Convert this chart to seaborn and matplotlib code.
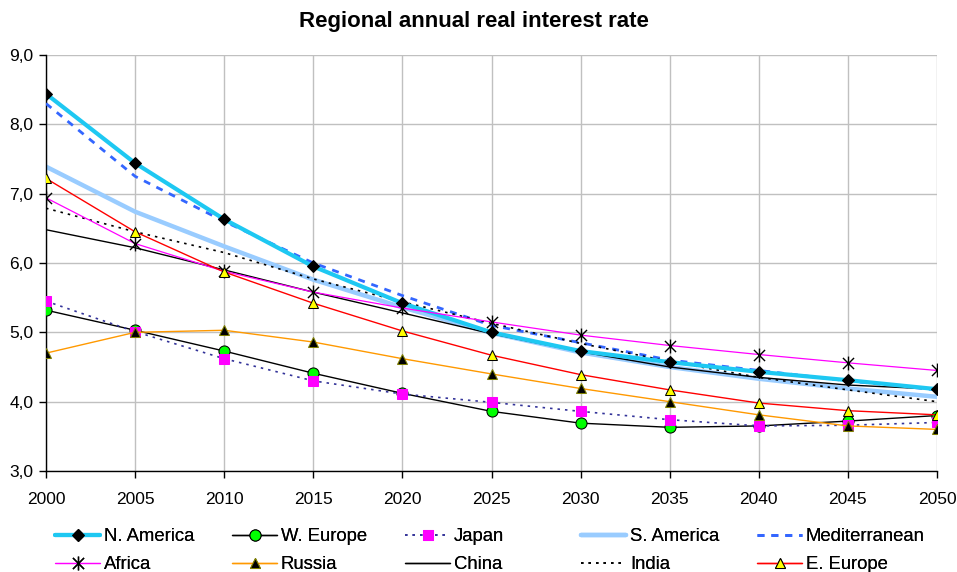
import numpy as np
import pandas as pd
import seaborn as sns
import matplotlib.pyplot as plt
from matplotlib.path import Path
from matplotlib.ticker import FuncFormatter, MultipleLocator

# Données
annees = [2000, 2005, 2010, 2015, 2020, 2025, 2030, 2035, 2040, 2045, 2050]
n_america = [8.44, 7.44, 6.63, 5.95, 5.42, 5.00, 4.73, 4.57, 4.43, 4.31, 4.18]
w_europe = [5.32, 5.03, 4.73, 4.41, 4.12, 3.86, 3.69, 3.63, 3.65, 3.72, 3.80]
japan = [5.45, 5.01, 4.62, 4.30, 4.11, 3.99, 3.86, 3.74, 3.65, 3.66, 3.70]
s_america = [7.39, 6.74, 6.24, 5.76, 5.36, 4.99, 4.71, 4.50, 4.33, 4.19, 4.07]
mediterranean = [8.30, 7.25, 6.60, 6.00, 5.53, 5.10, 4.85, 4.60, 4.45, 4.30, 4.17]
africa = [6.94, 6.28, 5.88, 5.58, 5.35, 5.15, 4.96, 4.81, 4.68, 4.56, 4.45]
russia = [4.70, 5.00, 5.03, 4.86, 4.62, 4.40, 4.19, 4.00, 3.81, 3.65, 3.60]
china = [6.48, 6.22, 5.90, 5.58, 5.28, 4.98, 4.72, 4.50, 4.35, 4.24, 4.18]
india = [6.79, 6.45, 6.15, 5.77, 5.44, 5.13, 4.84, 4.58, 4.35, 4.17, 4.00]
e_europe = [7.22, 6.45, 5.87, 5.42, 5.02, 4.67, 4.39, 4.17, 3.98, 3.87, 3.81]

sns.set_style('white')
plt.rcParams['font.family'] = ['Liberation Sans', 'DejaVu Sans']
plt.rcParams['text.color'] = 'black'
plt.rcParams['xtick.color'] = 'black'
plt.rcParams['ytick.color'] = 'black'

# marqueur étoile façon Excel : un X avec un trait vertical
etoile = Path([(0, -1), (0, 1), (-0.8, -0.8), (0.8, 0.8), (-0.8, 0.8), (0.8, -0.8)],
              [Path.MOVETO, Path.LINETO] * 3)

fig = plt.figure(figsize=(9.57, 5.72), dpi=100)
ax = fig.add_axes([46 / 957, 1 - 471 / 572, 891 / 957, 416 / 572])

pointille = (0, (1.5, 3))
series = {
    'N. America': (n_america, dict(color='#1ec8f2', lw=3.0, marker='D', ms=6.5, mfc='black', mec='black', zorder=4)),
    'W. Europe': (w_europe, dict(color='black', lw=1.0, marker='o', ms=8, mfc='#00ff00', mec='black', zorder=5)),
    'Japan': (japan, dict(color='#333399', lw=1.2, ls=pointille, marker='s', ms=7, mfc='#ff00ff', mec='#ff00ff', zorder=5)),
    'S. America': (s_america, dict(color='#99ccff', lw=3.2, zorder=2)),
    'Mediterranean': (mediterranean, dict(color='#3366ff', lw=2.0, ls=(0, (2.5, 2.5)), zorder=3)),
    'Africa': (africa, dict(color='#ff00ff', lw=0.9, marker=etoile, ms=10, mfc='none', mec='black', mew=1.0, zorder=5)),
    'Russia': (russia, dict(color='#ff9900', lw=1.0, marker='^', ms=7, mfc='black', mec='#808000', zorder=5)),
    'China': (china, dict(color='black', lw=1.0, zorder=3)),
    'India': (india, dict(color='black', lw=1.2, ls=pointille, zorder=3)),
    'E. Europe': (e_europe, dict(color='#ff0000', lw=1.0, marker='^', ms=7, mfc='#ffff00', mec='black', zorder=5)),
}

for nom, (valeurs, style) in series.items():
    style = dict(style)
    ls = style.pop('ls', '-')
    sns.lineplot(x=annees, y=valeurs, ax=ax, label=nom, linestyle=ls, legend=False, **style)

ax.set_xlim(2000, 2050)
ax.set_ylim(3, 9)
ax.xaxis.set_major_locator(MultipleLocator(5))
ax.yaxis.set_major_locator(MultipleLocator(1))
ax.yaxis.set_major_formatter(FuncFormatter(lambda v, p: f'{v:.1f}'.replace('.', ',')))
ax.grid(True, color='#c0c0c0', lw=1.0)
for s in ['top', 'right']:
    ax.spines[s].set_visible(False)
for s in ['left', 'bottom']:
    ax.spines[s].set_color('black')
    ax.spines[s].set_linewidth(1.0)
ax.tick_params(axis='both', which='major', direction='out', length=5, width=1, color='black',
               labelcolor='black', labelsize=12.5, bottom=True, left=True)
ax.tick_params(axis='x', pad=10)
ax.tick_params(axis='y', pad=4)
ax.set_xlabel('')
ax.set_ylabel('')

fig.text(474 / 957, 1 - 27 / 572, 'Regional annual real interest rate', ha='center', va='baseline',
         fontsize=16, fontweight='bold', color='black')

# légende : 5 colonnes de largeur égale, comme dans Excel
lignes = {l.get_label(): l for l in ax.get_lines()}
colonnes = [('N. America', 'Africa'), ('W. Europe', 'Russia'), ('Japan', 'China'),
            ('S. America', 'India'), ('Mediterranean', 'E. Europe')]
x_col = [55, 232, 405, 581, 757]
for x, noms in zip(x_col, colonnes):
    leg = fig.legend([lignes[n] for n in noms], list(noms), loc='upper left',
                     bbox_to_anchor=(x / 957, 1 - 528 / 572), frameon=False, fontsize=13.3,
                     handlelength=2.45, handletextpad=0.2, labelspacing=0.62,
                     borderpad=0, borderaxespad=0, labelcolor='black')
    fig.add_artist(leg)

fig.savefig('out.png', dpi=100)
